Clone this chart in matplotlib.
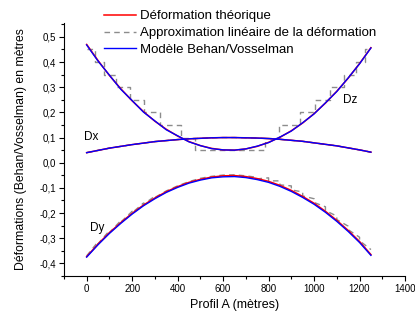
import numpy as np
import matplotlib.pyplot as plt
from matplotlib.ticker import FuncFormatter, MultipleLocator

plt.rcParams['font.family'] = ['Liberation Sans', 'DejaVu Sans']

# profil abscissa (m)
x = [0, 50, 100, 150, 200, 250, 300, 350, 400, 450, 500, 550, 600,
     650, 700, 750, 800, 850, 900, 950, 1000, 1050, 1100, 1150, 1200, 1250]

# theoretical deformation
dz_theo = [0.470, 0.406, 0.347, 0.294, 0.246, 0.203, 0.165, 0.133, 0.106,
           0.084, 0.068, 0.057, 0.051, 0.050, 0.055, 0.065, 0.081, 0.101,
           0.127, 0.158, 0.195, 0.237, 0.284, 0.336, 0.394, 0.457]
dx_theo = [0.040, 0.049, 0.058, 0.065, 0.072, 0.078, 0.084, 0.088, 0.092,
           0.095, 0.097, 0.099, 0.100, 0.100, 0.099, 0.098, 0.096, 0.093,
           0.089, 0.085, 0.079, 0.073, 0.067, 0.059, 0.051, 0.042]
dy_theo = [-0.373, -0.323, -0.278, -0.238, -0.201, -0.168, -0.140, -0.115,
           -0.095, -0.078, -0.066, -0.057, -0.052, -0.051, -0.055, -0.063,
           -0.074, -0.090, -0.110, -0.134, -0.161, -0.193, -0.229, -0.269,
           -0.313, -0.365]

# Behan/Vosselman model
dz_model = [0.468, 0.404, 0.348, 0.292, 0.247, 0.201, 0.166, 0.131, 0.107,
            0.083, 0.068, 0.056, 0.051, 0.050, 0.055, 0.066, 0.080, 0.102,
            0.126, 0.159, 0.194, 0.238, 0.283, 0.337, 0.393, 0.456]
dx_model = dx_theo
dy_model = [-0.375, -0.326, -0.281, -0.241, -0.204, -0.171, -0.143, -0.118,
            -0.098, -0.081, -0.069, -0.060, -0.056, -0.055, -0.059, -0.067,
            -0.078, -0.094, -0.114, -0.138, -0.165, -0.197, -0.233, -0.273,
            -0.317, -0.368]

# linear approximation of the deformation
dz_approx_x = [0, 35, 76, 130, 189, 254, 323, 413, 476, 784, 847, 937,
               1006, 1071, 1130, 1184, 1225, 1250]
dz_approx = [0.45, 0.40, 0.35, 0.30, 0.25, 0.20, 0.15, 0.10, 0.05, 0.10,
             0.15, 0.20, 0.25, 0.30, 0.35, 0.40, 0.45, 0.45]
dy_approx_x = [0, 50, 50, 100, 100, 150, 150, 200, 200, 250, 250, 300,
               300, 350, 400, 450, 500, 550, 600, 650, 700, 750, 750, 800,
               800, 850, 850, 900, 900, 950, 950, 1000,
               1000, 1050, 1050, 1100, 1100, 1150, 1150, 1200, 1200, 1250]
dy_approx = [-0.370, -0.314, -0.322, -0.270, -0.278, -0.230, -0.236, -0.193,
             -0.199, -0.160, -0.165, -0.133, -0.138, -0.112, -0.092, -0.075,
             -0.062, -0.054, -0.049, -0.048, -0.052, -0.058, -0.064, -0.060,
             -0.072, -0.072, -0.088, -0.092, -0.108, -0.116, -0.132, -0.143,
             -0.158, -0.175, -0.190, -0.212, -0.226, -0.252, -0.266, -0.296,
             -0.310, -0.345]

fig = plt.figure(figsize=(4.15, 3.2), dpi=100)
ax = fig.add_axes([0.154, 0.1375, 0.822, 0.7905])

red, grey, blue = '#ff0000', '#8c8c8c', '#0000ff'
dash = (0, (4, 3))

for yy in (dz_theo, dx_theo, dy_theo):
    ax.plot(x, yy, color=red, lw=1.1, zorder=2)
ax.step(dz_approx_x, dz_approx, where='post', color=grey, lw=1.0,
        linestyle=dash, zorder=1)
ax.plot(x, dx_theo, color=grey, lw=1.0, linestyle=dash, zorder=1)
ax.plot(dy_approx_x, dy_approx, color=grey, lw=1.0, linestyle=dash, zorder=1)
for yy in (dz_model, dx_model, dy_model):
    ax.plot(x, yy, color=blue, lw=1.0, zorder=3)

ax.text(1128, 0.25, 'Dz', fontsize=8.5, va='center', ha='left')
ax.text(-10, 0.102, 'Dx', fontsize=8.5, va='center', ha='left')
ax.text(13, -0.26, 'Dy', fontsize=8.5, va='center', ha='left')

ax.set_xlim(-100, 1400)
ax.set_ylim(-0.45, 0.555)
ax.xaxis.set_major_locator(MultipleLocator(200))
ax.xaxis.set_minor_locator(MultipleLocator(100))
ax.yaxis.set_major_locator(MultipleLocator(0.1))
ax.yaxis.set_minor_locator(MultipleLocator(0.05))
ax.yaxis.set_major_formatter(FuncFormatter(
    lambda v, p: ('%.1f' % v).replace('.', ',').replace('-0,0', '0,0')))
ax.xaxis.set_major_formatter(FuncFormatter(lambda v, p: '%d' % v))
ax.set_xticks([t for t in range(0, 1401, 200)])
ax.tick_params(which='major', length=3.5, width=0.8, labelsize=7, pad=2)
ax.tick_params(which='minor', length=2, width=0.8)
ax.spines['top'].set_visible(False)
ax.spines['right'].set_visible(False)

ax.set_xlabel('Profil A (mètres)', fontsize=9, labelpad=4)
ax.set_ylabel('Déformations (Behan/Vosselman) en mètres', fontsize=8.8,
              labelpad=9)

handles = [plt.Line2D([], [], color=red, lw=1.1),
           plt.Line2D([], [], color=grey, lw=1.0, linestyle=dash),
           plt.Line2D([], [], color=blue, lw=1.0)]
fig.legend(handles, ['Déformation théorique',
                     'Approximation linéaire de la déformation',
                     'Modèle Behan/Vosselman'],
           loc='upper left', bbox_to_anchor=(0.232, 0.993), frameon=False,
           fontsize=9.5, handlelength=2.4, handletextpad=0.3,
           labelspacing=0.35, borderaxespad=0.2)

fig.savefig('out.png', dpi=100)
